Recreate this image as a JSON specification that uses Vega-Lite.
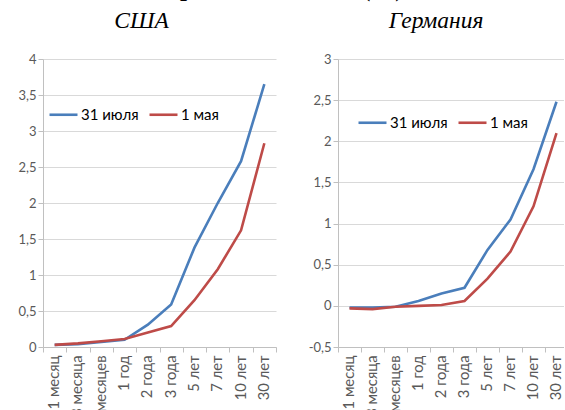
{
  "$schema": "https://vega.github.io/schema/vega-lite/v6.json",
  "padding": {"top": -25, "left": 17, "right": -5, "bottom": -10},
  "background": "white",
  "title": {"text": "Германия и США (%)", "font": "Liberation Serif", "fontSize": 25, "fontWeight": "bold", "fontStyle": "normal", "color": "#000000", "anchor": "middle", "offset": 8, "dx": -14},
  "datasets": {
    "usa": [
      {"term": "1 месяц", "series": "31 июля", "value": 0.03},
      {"term": "3 месяца", "series": "31 июля", "value": 0.04},
      {"term": "6 месяцев", "series": "31 июля", "value": 0.07},
      {"term": "1 год", "series": "31 июля", "value": 0.10},
      {"term": "2 года", "series": "31 июля", "value": 0.31},
      {"term": "3 года", "series": "31 июля", "value": 0.59},
      {"term": "5 лет", "series": "31 июля", "value": 1.38},
      {"term": "7 лет", "series": "31 июля", "value": 2.0},
      {"term": "10 лет", "series": "31 июля", "value": 2.58},
      {"term": "30 лет", "series": "31 июля", "value": 3.65},
      {"term": "1 месяц", "series": "1 мая", "value": 0.03},
      {"term": "3 месяца", "series": "1 мая", "value": 0.05},
      {"term": "6 месяцев", "series": "1 мая", "value": 0.08},
      {"term": "1 год", "series": "1 мая", "value": 0.11},
      {"term": "2 года", "series": "1 мая", "value": 0.2},
      {"term": "3 года", "series": "1 мая", "value": 0.29},
      {"term": "5 лет", "series": "1 мая", "value": 0.65},
      {"term": "7 лет", "series": "1 мая", "value": 1.08},
      {"term": "10 лет", "series": "1 мая", "value": 1.62},
      {"term": "30 лет", "series": "1 мая", "value": 2.83}
    ],
    "de": [
      {"term": "1 месяц", "series": "31 июля", "value": -0.02},
      {"term": "3 месяца", "series": "31 июля", "value": -0.02},
      {"term": "6 месяцев", "series": "31 июля", "value": -0.01},
      {"term": "1 год", "series": "31 июля", "value": 0.06},
      {"term": "2 года", "series": "31 июля", "value": 0.15},
      {"term": "3 года", "series": "31 июля", "value": 0.22},
      {"term": "5 лет", "series": "31 июля", "value": 0.68},
      {"term": "7 лет", "series": "31 июля", "value": 1.05},
      {"term": "10 лет", "series": "31 июля", "value": 1.66},
      {"term": "30 лет", "series": "31 июля", "value": 2.48},
      {"term": "1 месяц", "series": "1 мая", "value": -0.03},
      {"term": "3 месяца", "series": "1 мая", "value": -0.04},
      {"term": "6 месяцев", "series": "1 мая", "value": -0.01},
      {"term": "1 год", "series": "1 мая", "value": 0.0},
      {"term": "2 года", "series": "1 мая", "value": 0.01},
      {"term": "3 года", "series": "1 мая", "value": 0.06},
      {"term": "5 лет", "series": "1 мая", "value": 0.33},
      {"term": "7 лет", "series": "1 мая", "value": 0.66},
      {"term": "10 лет", "series": "1 мая", "value": 1.21},
      {"term": "30 лет", "series": "1 мая", "value": 2.1}
    ]
  },
  "spacing": 31,
  "resolve": {"scale": {"color": "independent", "y": "independent", "x": "independent"}, "legend": {"color": "independent"}},
  "hconcat": [
    {
      "width": 233,
      "height": 288,
      "title": {"text": "США", "dx": -18, "offset": 21},
      "data": {"name": "usa"},
      "mark": {"type": "line", "strokeWidth": 2.6},
      "encoding": {
        "x": {"field": "term", "type": "nominal", "sort": ["1 месяц", "3 месяца", "6 месяцев", "1 год", "2 года", "3 года", "5 лет", "7 лет", "10 лет", "30 лет"], "scale": {"type": "band", "paddingInner": 0, "paddingOuter": 0}, "axis": {"title": null, "labelAngle": -90, "labelFontSize": 14.8, "tickBand": "extent", "ticks": true, "tickSize": 5, "grid": false, "labelPadding": 3}},
        "y": {"field": "value", "type": "quantitative", "scale": {"domain": [0, 4], "nice": false, "zero": false}, "axis": {"title": null, "values": [0, 0.5, 1, 1.5, 2, 2.5, 3, 3.5, 4], "labelExpr": "replace(replace(format(datum.value, '~g'), '.', ','), '−', '-')", "grid": true, "ticks": true, "tickSize": 5, "labelPadding": 2}},
        "color": {"field": "series", "type": "nominal", "sort": ["31 июля", "1 мая"], "scale": {"domain": ["31 июля", "1 мая"], "range": ["#4A7EBB", "#BE4B48"]}, "legend": {"title": null, "orient": "none", "legendX": 5, "legendY": 40, "direction": "horizontal", "symbolType": "stroke", "symbolSize": 784, "symbolStrokeWidth": 2.6, "labelFont": "Lato", "labelFontSize": 15, "labelColor": "#000000", "columnPadding": 5, "labelOffset": 2, "padding": 0}}
      }
    },
    {
      "width": 230,
      "height": 288,
      "title": {"text": "Германия", "dx": -17, "offset": 21},
      "data": {"name": "de"},
      "mark": {"type": "line", "strokeWidth": 2.6},
      "encoding": {
        "x": {"field": "term", "type": "nominal", "sort": ["1 месяц", "3 месяца", "6 месяцев", "1 год", "2 года", "3 года", "5 лет", "7 лет", "10 лет", "30 лет"], "scale": {"type": "band", "paddingInner": 0, "paddingOuter": 0}, "axis": {"title": null, "labelAngle": -90, "labelFontSize": 14.8, "tickBand": "extent", "ticks": true, "tickSize": 5, "grid": false, "labelPadding": 3}},
        "y": {"field": "value", "type": "quantitative", "scale": {"domain": [-0.5, 3], "nice": false, "zero": false}, "axis": {"title": null, "values": [-0.5, 0, 0.5, 1, 1.5, 2, 2.5, 3], "labelExpr": "replace(replace(format(datum.value, '~g'), '.', ','), '−', '-')", "grid": true, "ticks": true, "tickSize": 5, "labelPadding": 2}},
        "color": {"field": "series", "type": "nominal", "sort": ["31 июля", "1 мая"], "scale": {"domain": ["31 июля", "1 мая"], "range": ["#4A7EBB", "#BE4B48"]}, "legend": {"title": null, "orient": "none", "legendX": 19, "legendY": 48, "direction": "horizontal", "symbolType": "stroke", "symbolSize": 784, "symbolStrokeWidth": 2.6, "labelFont": "Lato", "labelFontSize": 15, "labelColor": "#000000", "columnPadding": 5, "labelOffset": 2, "padding": 0}}
      }
    }
  ],
  "config": {
    "view": {"stroke": null},
    "title": {"font": "Liberation Serif", "fontSize": 23.5, "fontStyle": "italic", "fontWeight": "normal", "color": "#000000", "anchor": "middle"},
    "axis": {"labelFont": "Lato", "labelFontSize": 13, "labelColor": "#595959", "domainColor": "#c0c0c0", "tickColor": "#c0c0c0", "gridColor": "#d9d9d9", "domainWidth": 1, "gridWidth": 1}
  }
}
